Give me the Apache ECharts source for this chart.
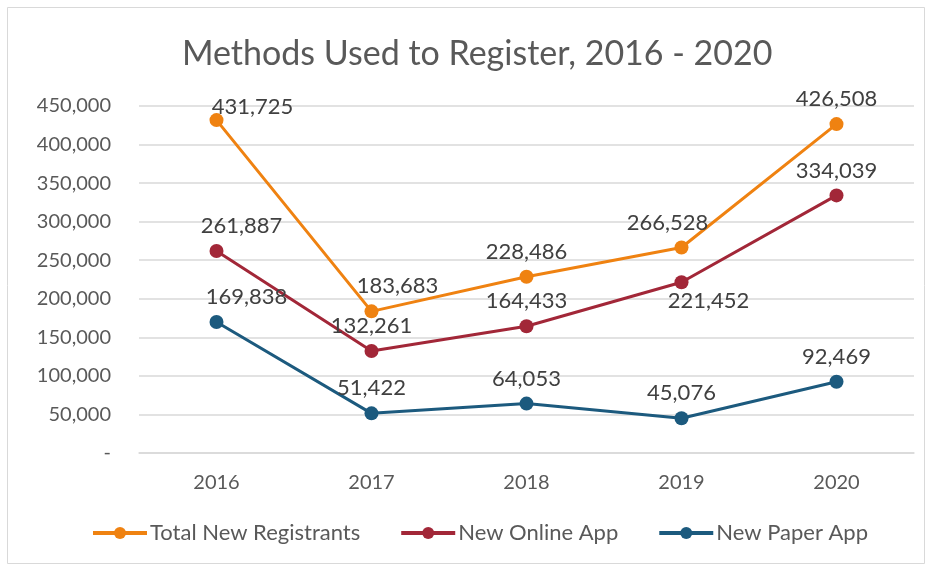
<!DOCTYPE html>
<html>
<head>
<meta charset="utf-8">
<script src="https://cdn.jsdelivr.net/npm/echarts@6/dist/echarts.min.js"></script>
<style>
  html, body { margin: 0; padding: 0; background: #fff; }
  #chart { width: 933px; height: 571px; }
</style>
</head>
<body>
<div id="chart"></div>
<script>
const years = ['2016', '2017', '2018', '2019', '2020']
const totalNew = [431725, 183683, 228486, 266528, 426508]
const onlineApp = [261887, 132261, 164433, 221452, 334039]
const paperApp = [169838, 51422, 64053, 45076, 92469]
const yTicks = [0, 50000, 100000, 150000, 200000, 250000, 300000, 350000, 400000, 450000]

// label nudges so they sit like the original
const totalLabelShift = [[36, 12], [26, 0], [0, 0], [-14, 0], [0, 0]]
const onlineLabelShift = [[25, 0], [0, 0], [0, 0], [27, 44], [0, 0]]
const paperLabelShift = [[30, 0], [0, 0], [0, 0], [0, 0], [0, 0]]

const fmt = v => v === 0 ? '-' : v.toLocaleString('en-US')
const font = 'Lato, "Open Sans", sans-serif'

function withLabels (values, shifts) {
  return values.map((v, i) => ({ value: v, label: { offset: shifts[i] } }))
}

function lineSeries (name, values, shifts, color) {
  return {
    name: name,
    type: 'line',
    data: withLabels(values, shifts),
    symbol: 'circle',
    symbolSize: 14,
    lineStyle: { color: color, width: 3 },
    itemStyle: { color: color },
    label: {
      show: true,
      position: 'top',
      distance: 7,
      color: '#404040',
      fontSize: 22,
      fontFamily: font,
      formatter: p => fmt(p.value)
    }
  }
}

const chart = echarts.init(document.getElementById('chart'))
chart.setOption({
  animation: false,
  backgroundColor: '#fff',
  graphic: [{
    type: 'rect',
    shape: { x: 7.5, y: 7.5, width: 917, height: 556 },
    style: { fill: 'none', stroke: '#d9d9d9', lineWidth: 1 },
    silent: true
  }],
  title: {
    text: 'Methods Used to Register, 2016 - 2020',
    left: 177,
    top: 32,
    textStyle: { color: '#595959', fontSize: 34, fontWeight: 'normal', fontFamily: font }
  },
  legend: {
    bottom: 22,
    left: 86,
    itemWidth: 54,
    itemHeight: 15,
    itemGap: 39,
    lineStyle: { width: 4 },
    textStyle: { color: '#595959', fontSize: 22, fontFamily: font, padding: [0, 0, 0, -2] }
  },
  grid: { left: 139, right: 19, top: 106, bottom: 118 },
  xAxis: {
    type: 'category',
    data: years,
    axisLine: { lineStyle: { color: '#d9d9d9', width: 1.5 } },
    axisTick: { show: false },
    axisLabel: { color: '#595959', fontSize: 20, fontFamily: font, margin: 20 }
  },
  yAxis: {
    type: 'value',
    min: yTicks[0],
    max: yTicks[yTicks.length - 1],
    interval: 50000,
    axisLine: { show: false },
    axisTick: { show: false },
    splitLine: { lineStyle: { color: '#d9d9d9', width: 1.5 } },
    axisLabel: { color: '#595959', fontSize: 20, fontFamily: font, margin: 28, formatter: fmt }
  },
  series: [
    lineSeries('Total New Registrants', totalNew, totalLabelShift, '#EF8211'),
    lineSeries('New Online App', onlineApp, onlineLabelShift, '#A22738'),
    lineSeries('New Paper App', paperApp, paperLabelShift, '#1C5A7E')
  ]
})
</script>
</body>
</html>
